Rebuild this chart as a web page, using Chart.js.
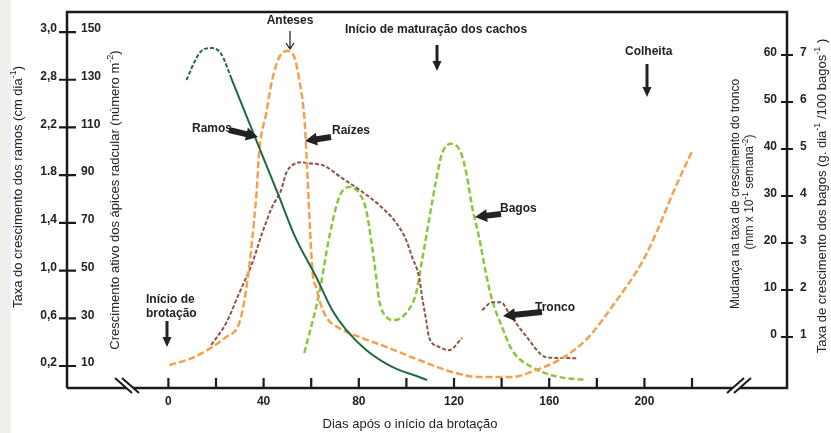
<!DOCTYPE html>
<html>
<head>
<meta charset="utf-8">
<script src="https://cdn.jsdelivr.net/npm/chart.js@4.4.1/dist/chart.umd.min.js"></script>
<style>
  html, body { margin: 0; padding: 0; background: #fff; }
  #wrap { width: 831px; height: 433px; position: relative; }
</style>
</head>
<body>
<div id="wrap"><canvas id="chart"></canvas></div>
<script>
// eixo x : dias após o início da brotação
const diasTicks = [0, 20, 40, 60, 80, 100, 120, 140, 160, 180, 200, 220];
const diasLabels = [0, 40, 80, 120, 160, 200];

// eixo esquerdo : ápices radiculares (interno) e ramos (externo)
const apicesTicks = [10, 30, 50, 70, 90, 110, 130, 150];
const ramosLabels = ['0,2', '0,6', '1,0', '1,4', '1.8', '2,2', '2,8', '3,0'];

// eixo direito : tronco (interno) e bagos (externo)
const troncoTicks = [0, 10, 20, 30, 40, 50, 60];
const bagosTicks = [1, 2, 3, 4, 5, 6, 7];

const ramosDias = [7.6, 10.9, 13.8, 18, 22.2, 26.4, 36.5, 46.6, 52.9, 62.1, 68.8, 74.7, 83.1, 94, 105.3, 108.7];
const ramosValores = [129.9, 137.4, 142, 143.3, 140.8, 130.7, 105.6, 80.8, 64.9, 47.3, 33.5, 25.1, 16.7, 9.6, 5.4, 4.1];

// Raízes
const raizesDias = [0.4, 10.1, 18.5, 24.3, 30.4, 36.9, 38.2, 41.1, 43.6, 46.6, 49.9, 52.9, 55, 57.1, 57.7, 60.6, 62.1, 63.4, 66.3, 71.8, 80.2, 91.5, 105.3, 119.2, 130.5, 144.4, 154.4, 164.1, 175.4, 186.3, 200.6, 214.4, 219.9];
const raizesValores = [10.4, 13.4, 18, 22.2, 30.1, 80.8, 100.5, 116, 129.9, 139.5, 142, 139.5, 129.9, 114.4, 104.7, 49, 43.1, 37.7, 30.5, 25.9, 22.2, 18, 12.5, 7.5, 5.4, 5.4, 8.3, 12.5, 20.9, 34.7, 56.5, 88, 99.7];

// Tronco (mm x 10-1 semana-2)
const troncoDias = [18, 24.3, 29.8, 35.2, 39.4, 43.6, 47.4, 49.5, 53.7, 56.2, 57.9, 64.6, 73, 81.4, 88.5, 95.7, 99.9, 102.4, 105.3, 106.6, 108.3, 109.5, 113.7, 117.9, 123.4, 127, 131.8, 136, 139.7, 143.1, 147.3, 151.5, 154.8, 158.6, 171.6];
const troncoValores = [-1.7, 3.0, 9.4, 15.7, 22.1, 27.7, 31.3, 34.9, 37.0, 37.2, 37.0, 36.6, 33.8, 30.9, 28.1, 24.3, 20.6, 17.0, 12.8, 8.5, 3.6, 0, -2.1, -2.8, -0.2, null, 5.7, 7.4, 7.4, 5.1, 2.1, -0.6, -2.8, -4.3, -4.5];

// Bagos (g. dia-1 /100 bagos-1)
const bagosDias = [57.1, 63.4, 67.6, 71.8, 76, 80.2, 83.1, 85.2, 87.3, 88.5, 91.5, 94.8, 99.9, 104.1, 106.6, 109.5, 112.5, 115, 118.8, 123, 125.5, 127.6, 130.5, 133.4, 136, 140.2, 144.4, 152.7, 164.1, 175.4];
const bagosValores = [0.66, 1.94, 3.13, 3.98, 4.19, 4.06, 3.70, 3.06, 2.28, 1.79, 1.43, 1.36, 1.51, 1.94, 2.64, 3.49, 4.34, 4.91, 5.11, 4.91, 4.40, 3.77, 3.13, 2.36, 1.79, 1.21, 0.72, 0.36, 0.15, 0.09];

const FONT = "'Liberation Sans', Arial, sans-serif";
const INK = '#222';

function pts(xs, ys) {
  return xs.map((x, i) => ({ x: x, y: ys[i] }));
}

// fixa o tamanho do eixo e tira o espaço extra dos rótulos
function fixSize(w, h) {
  return s => {
    if (w) s.width = w;
    if (h) s.height = h;
    s.paddingTop = 0; s.paddingBottom = 0;
    s.paddingLeft = 0; s.paddingRight = 0;
  };
}

// texto com expoentes (partes com sup: true)
function drawRich(ctx, parts, x, y, rot, size) {
  ctx.save();
  ctx.translate(x, y);
  ctx.rotate(rot);
  ctx.textBaseline = 'middle';
  ctx.textAlign = 'left';
  let total = 0;
  parts.forEach(p => {
    ctx.font = (p.sup ? size * 0.7 : size) + 'px ' + FONT;
    p.w = ctx.measureText(p.t).width;
    total += p.w;
  });
  let cur = -total / 2;
  parts.forEach(p => {
    ctx.font = (p.sup ? size * 0.7 : size) + 'px ' + FONT;
    ctx.fillText(p.t, cur, p.sup ? -size * 0.35 : 0);
    cur += p.w;
  });
  ctx.restore();
}

function blockArrow(ctx, x1, y1, x2, y2, shaft, headW, headL) {
  const a = Math.atan2(y2 - y1, x2 - x1);
  const len = Math.hypot(x2 - x1, y2 - y1);
  ctx.save();
  ctx.translate(x1, y1);
  ctx.rotate(a);
  ctx.beginPath();
  ctx.moveTo(0, -shaft / 2);
  ctx.lineTo(len - headL, -shaft / 2);
  ctx.lineTo(len - headL, -headW / 2);
  ctx.lineTo(len, 0);
  ctx.lineTo(len - headL, headW / 2);
  ctx.lineTo(len - headL, shaft / 2);
  ctx.lineTo(0, shaft / 2);
  ctx.closePath();
  ctx.fill();
  ctx.restore();
}

const decor = {
  id: 'decor',
  beforeDraw(chart) {
    const ctx = chart.ctx;
    ctx.save();
    ctx.fillStyle = '#fff';
    ctx.fillRect(0, 0, chart.width, chart.height);
    ctx.fillStyle = '#efefec';
    ctx.fillRect(0, 0, 11, chart.height);
    ctx.restore();
  },
  afterDraw(chart) {
    const ctx = chart.ctx;
    const a = chart.chartArea;
    const sx = chart.scales.x, sy = chart.scales.y, sy2 = chart.scales.y2, sy3 = chart.scales.y3;
    ctx.save();
    ctx.strokeStyle = '#1a1a1a';
    ctx.fillStyle = INK;

    // moldura
    ctx.lineWidth = 2.5;
    ctx.beginPath();
    ctx.moveTo(a.left, a.bottom);
    ctx.lineTo(a.left, a.top);
    ctx.lineTo(a.right, a.top);
    ctx.lineTo(a.right, a.bottom);
    ctx.lineTo(a.left, a.bottom);
    ctx.stroke();

    // marcas
    ctx.lineWidth = 2.2;
    ctx.beginPath();
    diasTicks.forEach(d => {
      const px = sx.getPixelForValue(d);
      ctx.moveTo(px, a.bottom - 10);
      ctx.lineTo(px, a.bottom);
    });
    apicesTicks.forEach(v => {
      const py = sy.getPixelForValue(v);
      ctx.moveTo(a.left - 8, py);
      ctx.lineTo(a.left + 9, py);
    });
    bagosTicks.forEach(v => {
      const py = sy2.getPixelForValue(v);
      ctx.moveTo(a.right - 6, py);
      ctx.lineTo(a.right + 6, py);
    });
    ctx.stroke();

    // quebras do eixo x
    const breaks = [
      [[115, 378], [122, 378], [139, 393], [132, 393]],
      [[727, 393], [734, 393], [751, 378], [744, 378]]
    ];
    breaks.forEach(b => {
      ctx.fillStyle = '#fff';
      ctx.beginPath();
      ctx.moveTo(b[0][0], b[0][1]);
      b.slice(1).forEach(p => ctx.lineTo(p[0], p[1]));
      ctx.closePath();
      ctx.fill();
      ctx.lineWidth = 2;
      ctx.beginPath();
      ctx.moveTo(b[0][0], b[0][1]); ctx.lineTo(b[3][0], b[3][1]);
      ctx.moveTo(b[1][0], b[1][1]); ctx.lineTo(b[2][0], b[2][1]);
      ctx.stroke();
    });
    ctx.fillStyle = INK;

    // rótulos internos
    ctx.font = 'bold 12px ' + FONT;
    ctx.textBaseline = 'middle';
    ctx.textAlign = 'left';
    apicesTicks.forEach(v => {
      ctx.fillText(String(v), a.left + 14, sy.getPixelForValue(v) - 3);
    });
    ctx.textAlign = 'right';
    troncoTicks.forEach(v => {
      ctx.fillText(String(v), a.right - 10, sy3.getPixelForValue(v) - 2);
    });

    // títulos
    const R = -Math.PI / 2;
    drawRich(ctx, [{ t: 'Taxa do crescimento dos ramos (cm dia' }, { t: '-1', sup: true }, { t: ')' }], 18, 187, R, 13);
    drawRich(ctx, [{ t: 'Crescimento ativo dos ápices radcular (número m' }, { t: '-2', sup: true }, { t: ')' }], 115, 200, R, 13);
    drawRich(ctx, [{ t: 'Mudança na taxa de crescimento do tronco' }], 736, 194, R, 12);
    drawRich(ctx, [{ t: '(mm x 10' }, { t: '-1', sup: true }, { t: ' semana' }, { t: '-2', sup: true }, { t: ')' }], 750, 192, R, 12);
    drawRich(ctx, [{ t: 'Taxa de crescimento dos bagos (g. dia' }, { t: '-1', sup: true }, { t: ' /100 bagos' }, { t: '-1', sup: true }, { t: ' )' }], 822, 196, R, 13);
    drawRich(ctx, [{ t: 'Dias após o início da brotação' }], 410, 424, 0, 13);

    // anotações
    ctx.font = 'bold 12px ' + FONT;
    ctx.textBaseline = 'middle';
    ctx.textAlign = 'center';
    ctx.fillText('Anteses', 290, 21);
    ctx.textAlign = 'left';
    ctx.fillText('Início de maturação dos cachos', 345, 30);
    ctx.fillText('Colheita', 625, 52);
    ctx.fillText('Ramos', 192, 129);
    ctx.fillText('Raízes', 332, 131);
    ctx.fillText('Bagos', 500, 209);
    ctx.fillText('Tronco', 535, 308);
    ctx.fillText('Início de', 146, 300);
    ctx.fillText('brotação', 146, 314);

    // seta fina (anteses)
    ctx.lineWidth = 1.2;
    ctx.beginPath();
    ctx.moveTo(290, 31); ctx.lineTo(290, 49);
    ctx.moveTo(286, 43); ctx.lineTo(290, 49); ctx.lineTo(294, 43);
    ctx.stroke();

    blockArrow(ctx, 437, 45, 437, 71, 3, 9, 10);
    blockArrow(ctx, 647, 64, 647, 97, 3, 9, 10);
    blockArrow(ctx, 167, 321, 167, 347, 3, 9, 10);
    blockArrow(ctx, 229, 130, 258, 137, 6, 13, 12);
    blockArrow(ctx, 331, 137, 305, 141, 6, 13, 12);
    blockArrow(ctx, 501, 214, 475, 217, 6, 13, 12);
    blockArrow(ctx, 542, 312, 503, 316, 6, 13, 12);
    ctx.restore();
  }
};

new Chart(document.getElementById('chart'), {
  type: 'line',
  data: {
    datasets: [
      {
        label: 'Ramos',
        data: pts(ramosDias, ramosValores),
        yAxisID: 'y',
        borderColor: '#1f6a3d',
        borderWidth: 2,
        segment: { borderDash: c => c.p1DataIndex <= 5 ? [4, 2] : undefined }
      },
      {
        label: 'Raízes',
        data: pts(raizesDias, raizesValores),
        yAxisID: 'y',
        borderColor: '#f5a04f',
        borderWidth: 2.5,
        borderDash: [7, 3]
      },
      {
        label: 'Tronco',
        data: pts(troncoDias, troncoValores),
        yAxisID: 'y3',
        borderColor: '#8c5546',
        borderWidth: 2,
        borderDash: [4, 2]
      },
      {
        label: 'Bagos',
        data: pts(bagosDias, bagosValores),
        yAxisID: 'y2',
        borderColor: '#8cc63f',
        borderWidth: 2.5,
        borderDash: [6, 3]
      }
    ]
  },
  options: {
    responsive: true,
    maintainAspectRatio: false,
    animation: false,
    layout: { padding: { top: 12, left: 0, right: 0, bottom: 0 } },
    elements: {
      point: { radius: 0 },
      line: { fill: false, cubicInterpolationMode: 'monotone' }
    },
    spanGaps: false,
    plugins: {
      legend: { display: false },
      tooltip: { enabled: false }
    },
    scales: {
      x: {
        type: 'linear',
        min: -42.6,
        max: 259.9,
        grid: { display: false, drawTicks: false },
        border: { display: false },
        afterBuildTicks: s => { s.ticks = diasTicks.map(v => ({ value: v })); },
        afterFit: fixSize(0, 45),
        ticks: {
          autoSkip: false,
          maxRotation: 0,
          padding: 6,
          color: INK,
          font: { family: FONT, size: 12, weight: 'bold' },
          callback: v => diasLabels.includes(v) ? String(v) : ''
        }
      },
      y: {
        position: 'left',
        min: 0.78,
        max: 158.4,
        grid: { display: false, drawTicks: false },
        border: { display: false },
        afterBuildTicks: s => { s.ticks = apicesTicks.map(v => ({ value: v })); },
        afterFit: fixSize(67, 0),
        ticks: {
          padding: 10,
          labelOffset: -3,
          color: INK,
          font: { family: FONT, size: 12, weight: 'bold' },
          callback: v => ramosLabels[apicesTicks.indexOf(v)]
        }
      },
      y2: {
        position: 'right',
        min: -0.085,
        max: 7.915,
        grid: { display: false, drawTicks: false },
        border: { display: false },
        afterBuildTicks: s => { s.ticks = bagosTicks.map(v => ({ value: v })); },
        afterFit: fixSize(44, 0),
        ticks: {
          padding: 13,
          labelOffset: -2,
          color: INK,
          font: { family: FONT, size: 12, weight: 'bold' }
        }
      },
      y3: {
        display: false,
        min: -10.85,
        max: 69.15
      }
    }
  },
  plugins: [decor]
});
</script>
</body>
</html>
